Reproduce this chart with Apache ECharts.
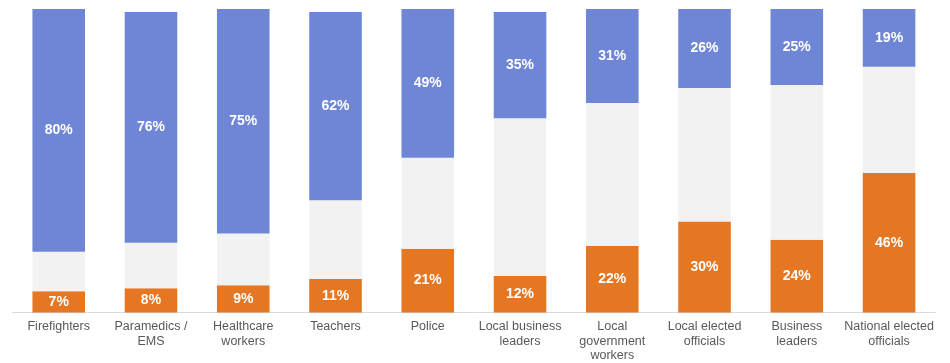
<!DOCTYPE html>
<html>
<head>
<meta charset="utf-8">
<script src="https://cdn.jsdelivr.net/npm/echarts@6/dist/echarts.min.js"></script>
<style>
html,body{margin:0;padding:0;background:#fff;}
#chart{width:950px;height:363px;}
</style>
</head>
<body>
<div id="chart"></div>
<script>
var categories = ["Firefighters", "Paramedics /\nEMS", "Healthcare\nworkers", "Teachers", "Police", "Local business\nleaders", "Local\ngovernment\nworkers", "Local elected\nofficials", "Business\nleaders", "National elected\nofficials"];
var negative = [7, 8, 9, 11, 21, 12, 22, 30, 24, 46];
var neutral = [13, 15, 17, 26, 30, 52, 47, 44, 51, 35];
var positive = [80, 76, 75, 62, 49, 35, 31, 26, 25, 19];

var chart = echarts.init(document.getElementById('chart'));
var lbl = {
  show: true,
  position: 'inside',
  color: '#ffffff',
  fontFamily: 'Liberation Sans, Arial, sans-serif',
  fontWeight: 'bold',
  fontSize: 14,
  formatter: function (p) { return p.value + '%'; }
};
chart.setOption({
  animation: false,
  grid: { left: 12.6, right: 14.8, top: 9, bottom: 47, containLabel: false },
  xAxis: {
    type: 'category',
    data: categories,
    axisLine: { show: true, lineStyle: { color: '#d9d9d9', width: 1 } },
    axisTick: { show: false },
    axisLabel: {
      interval: 0,
      color: '#595959',
      fontFamily: 'Liberation Sans, Arial, sans-serif',
      fontSize: 12.5,
      lineHeight: 14.5,
      margin: 7
    }
  },
  yAxis: {
    type: 'value',
    min: 0,
    max: 100,
    show: false,
    splitLine: { show: false }
  },
  series: [
    { name: 'Negative', type: 'bar', stack: 's', data: negative, barWidth: '57%', itemStyle: { color: '#e57722' }, label: lbl },
    { name: 'Neutral', type: 'bar', stack: 's', data: neutral, itemStyle: { color: '#f2f2f2' }, label: { show: false } },
    { name: 'Positive', type: 'bar', stack: 's', data: positive, itemStyle: { color: '#6f86d6' }, label: lbl }
  ]
});
</script>
</body>
</html>
